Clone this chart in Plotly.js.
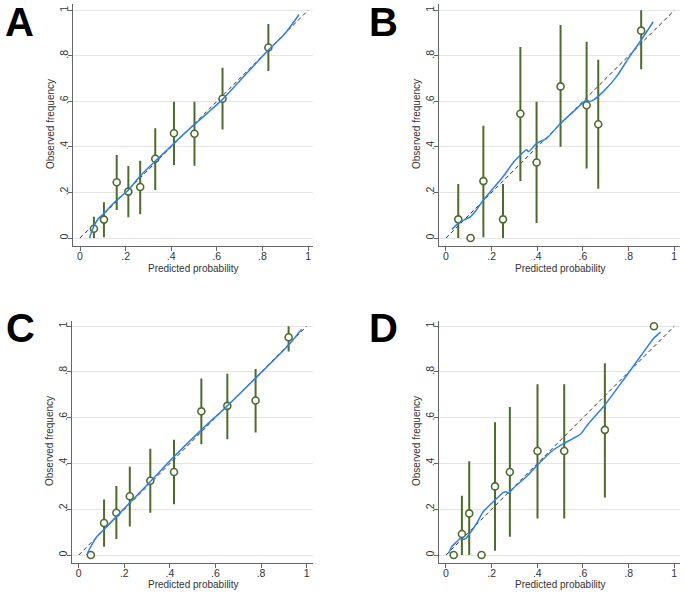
<!DOCTYPE html>
<html><head><meta charset="utf-8">
<script src="https://cdn.plot.ly/plotly-3.0.1.min.js"></script>
<style>html,body{margin:0;padding:0;background:#fff}#chart{width:685px;height:593px}</style>
</head><body><div id="chart"></div>
<script>
// ---------- data ----------
const panelLabels = ["A", "B", "C", "D"];
const xTitle = "Predicted probability";
const yTitle = "Observed frequency";
const tickVals = [0, 0.2, 0.4, 0.6, 0.8, 1];
const tickText = ["0", ".2", ".4", ".6", ".8", "1"];

// Panel A
const aX  = [0.061, 0.105, 0.161, 0.212, 0.264, 0.330, 0.412, 0.502, 0.625, 0.826];
const aY  = [0.041, 0.081, 0.245, 0.204, 0.224, 0.348, 0.460, 0.458, 0.612, 0.837];
const aLo = [0.000, 0.003, 0.123, 0.091, 0.105, 0.211, 0.321, 0.318, 0.477, 0.734];
const aHi = [0.094, 0.157, 0.365, 0.316, 0.340, 0.482, 0.599, 0.599, 0.748, 0.940];
const aSmX = [0.042, 0.050, 0.060, 0.080, 0.105, 0.130, 0.162, 0.212, 0.264, 0.330, 0.370, 0.412, 0.450, 0.502, 0.560, 0.625, 0.700, 0.760, 0.826, 0.900, 0.960];
const aSmY = [0.000, 0.025, 0.050, 0.085, 0.108, 0.135, 0.167, 0.211, 0.272, 0.338, 0.375, 0.416, 0.452, 0.499, 0.550, 0.609, 0.690, 0.755, 0.826, 0.900, 0.981];

// Panel B
const bX  = [0.054, 0.108, 0.164, 0.250, 0.326, 0.397, 0.502, 0.616, 0.667, 0.855];
const bY  = [0.082, 0.000, 0.250, 0.082, 0.546, 0.332, 0.666, 0.583, 0.500, 0.911];
const bLo = [0.000, 0.000, 0.003, 0.000, 0.250, 0.066, 0.401, 0.305, 0.217, 0.741];
const bHi = [0.237, 0.000, 0.493, 0.237, 0.839, 0.599, 0.936, 0.862, 0.783, 1.000];
const bSmX = [0.026, 0.054, 0.080, 0.108, 0.135, 0.164, 0.200, 0.250, 0.295, 0.326, 0.353, 0.362, 0.397, 0.441, 0.502, 0.558, 0.616, 0.630, 0.645, 0.689, 0.747, 0.806, 0.855, 0.908];
const bSmY = [0.038, 0.064, 0.080, 0.094, 0.125, 0.167, 0.210, 0.269, 0.332, 0.365, 0.388, 0.379, 0.416, 0.438, 0.504, 0.555, 0.606, 0.600, 0.606, 0.643, 0.709, 0.800, 0.870, 0.950];

// Panel C
const cX  = [0.053, 0.111, 0.165, 0.224, 0.314, 0.418, 0.538, 0.652, 0.776, 0.921];
const cY  = [0.000, 0.140, 0.185, 0.257, 0.325, 0.363, 0.628, 0.652, 0.675, 0.952];
const cLo = [0.000, 0.036, 0.070, 0.125, 0.185, 0.222, 0.484, 0.506, 0.535, 0.889];
const cHi = [0.000, 0.243, 0.302, 0.386, 0.465, 0.504, 0.771, 0.792, 0.813, 1.000];
const cSmX = [0.035, 0.045, 0.057, 0.079, 0.111, 0.165, 0.224, 0.314, 0.418, 0.538, 0.652, 0.776, 0.921, 0.978];
const cSmY = [0.000, 0.022, 0.044, 0.080, 0.112, 0.168, 0.229, 0.321, 0.430, 0.547, 0.652, 0.773, 0.918, 0.987];

// Panel D
const dX  = [0.034, 0.070, 0.102, 0.156, 0.215, 0.280, 0.401, 0.518, 0.696, 0.911];
const dY  = [0.000, 0.092, 0.182, 0.000, 0.300, 0.363, 0.455, 0.455, 0.547, 1.000];
const dLo = [0.000, 0.000, 0.000, 0.000, 0.019, 0.080, 0.160, 0.160, 0.252, 1.000];
const dHi = [0.000, 0.259, 0.410, 0.000, 0.580, 0.647, 0.746, 0.746, 0.838, 1.000];
const dSmX = [0.012, 0.025, 0.047, 0.061, 0.070, 0.088, 0.105, 0.134, 0.164, 0.215, 0.251, 0.266, 0.273, 0.295, 0.353, 0.401, 0.470, 0.518, 0.558, 0.590, 0.623, 0.696, 0.777, 0.857, 0.911, 0.940];
const dSmY = [0.007, 0.036, 0.058, 0.071, 0.068, 0.073, 0.095, 0.138, 0.190, 0.240, 0.273, 0.276, 0.270, 0.292, 0.343, 0.394, 0.459, 0.488, 0.510, 0.529, 0.573, 0.656, 0.765, 0.875, 0.948, 0.974];

const diagX = [0, 1];
const diagY = [0, 1];

// ---------- styles ----------
const green = "#4f6b2c";
const blue = "#2f80e4";
const W = 685, H = 593;
const FONT = "Liberation Sans, Arial, sans-serif";

const panels = [
  {x: aX, y: aY, lo: aLo, hi: aHi, sx: aSmX, sy: aSmY},
  {x: bX, y: bY, lo: bLo, hi: bHi, sx: bSmX, sy: bSmY},
  {x: cX, y: cY, lo: cLo, hi: cHi, sx: cSmX, sy: cSmY},
  {x: dX, y: dY, lo: dLo, hi: dHi, sx: dSmX, sy: dSmY}
];

const geo = [
  {l: 72.7, r: 313.3, t: 4,     b: 246,   xr: [-0.032, 1.023], yr: [-0.035, 1.028]},
  {l: 439.3, r: 680,  t: 4,     b: 246,   xr: [-0.029, 1.025], yr: [-0.035, 1.028]},
  {l: 71.7, r: 313,   t: 320.7, b: 563.3, xr: [-0.031, 1.028], yr: [-0.036, 1.024]},
  {l: 439.3, r: 680,  t: 320.7, b: 563.3, xr: [-0.029, 1.025], yr: [-0.036, 1.024]}
];
const letterPos = [[19, 22], [383, 22], [20, 328], [383, 328]];
const xTitlePos = [[193, 268], [560, 268], [193, 584], [560, 584]];
const yTitlePos = [[50, 124], [416, 124], [49, 441], [416, 441]];

const data = [];
const layout = {
  width: W, height: H,
  margin: {l: 0, r: 0, t: 0, b: 0},
  paper_bgcolor: "#fff", plot_bgcolor: "#fff",
  showlegend: false,
  font: {family: FONT, color: "#333", size: 10},
  annotations: []
};

panels.forEach((p, i) => {
  const n = i + 1;
  const xa = n === 1 ? "x" : "x" + n;
  const ya = n === 1 ? "y" : "y" + n;
  data.push({x: diagX, y: diagY, xaxis: xa, yaxis: ya, mode: "lines", type: "scatter",
    line: {color: "#333", width: 1, dash: "4px,3px"}, hoverinfo: "skip"});
  data.push({x: p.x, y: p.y, xaxis: xa, yaxis: ya, mode: "markers", type: "scatter",
    marker: {symbol: "circle", size: 7, color: "#fff", line: {color: green, width: 1.6}},
    error_y: {type: "data", symmetric: false,
      array: p.hi.map((h, k) => h - p.y[k]),
      arrayminus: p.lo.map((l, k) => p.y[k] - l),
      color: green, thickness: 2, width: 0}});
  data.push({x: p.sx, y: p.sy, xaxis: xa, yaxis: ya, mode: "lines", type: "scatter",
    line: {color: blue, width: 1.5, shape: "spline", smoothing: 0.6}});

  const g = geo[i];
  const axCommon = {
    tickvals: tickVals, ticktext: tickText, ticks: "outside", ticklen: 4, tickwidth: 1,
    tickcolor: "#666", showline: true, linecolor: "#666", linewidth: 1,
    zeroline: false, tickfont: {size: 10.5, color: "#333"}, fixedrange: true,
    ticklabelstandoff: -4
  };
  layout["xaxis" + (n === 1 ? "" : n)] = Object.assign({}, axCommon, {
    domain: [g.l / W, g.r / W], range: g.xr, anchor: ya, showgrid: false
  });
  layout["yaxis" + (n === 1 ? "" : n)] = Object.assign({}, axCommon, {
    domain: [1 - g.b / H, 1 - g.t / H], range: g.yr, anchor: xa,
    showgrid: true, gridcolor: "#e6e6e6", gridwidth: 1, tickangle: -90
  });
  layout.annotations.push({
    text: "<b>" + panelLabels[i] + "</b>", xref: "paper", yref: "paper",
    x: letterPos[i][0] / W, y: 1 - letterPos[i][1] / H, xanchor: "center", yanchor: "middle",
    showarrow: false, font: {size: 40, color: "#000", family: FONT}
  });
  layout.annotations.push({
    text: xTitle, xref: "paper", yref: "paper",
    x: xTitlePos[i][0] / W, y: 1 - xTitlePos[i][1] / H, xanchor: "center", yanchor: "middle",
    showarrow: false, font: {size: 10, color: "#333", family: FONT}
  });
  layout.annotations.push({
    text: yTitle, xref: "paper", yref: "paper", textangle: -90,
    x: yTitlePos[i][0] / W, y: 1 - yTitlePos[i][1] / H, xanchor: "center", yanchor: "middle",
    showarrow: false, font: {size: 10, color: "#333", family: FONT}
  });
});

Plotly.newPlot("chart", data, layout, {displayModeBar: false, staticPlot: true});
</script>
</body></html>
